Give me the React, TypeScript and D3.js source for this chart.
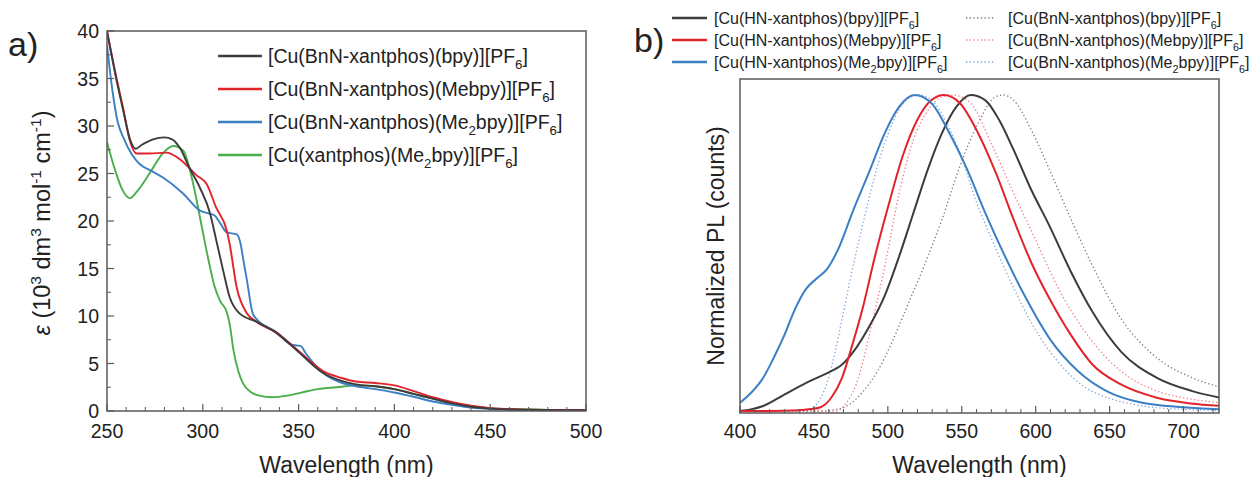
import React from "react";
import * as d3 from "d3";

// ---------- Panel a data (absorption, 10^3 dm3 mol-1 cm-1) ----------
const aBpyX = [250, 255, 258.5, 262, 265, 268, 274, 280, 284, 288, 293, 298.5, 303.8, 307, 310.6, 314, 319, 328, 338.5, 349, 362.8, 372, 380, 390, 400, 410, 420, 430, 440, 450, 465, 480, 500];
const aBpyY = [40, 34.8, 31.6, 28.6, 27.6, 28.0, 28.6, 28.8, 28.6, 27.7, 25.6, 23.5, 20.8, 18, 14.8, 12, 10.3, 9.4, 8.2, 6.4, 4.0, 3.2, 2.8, 2.6, 2.3, 1.8, 1.3, 0.8, 0.45, 0.25, 0.15, 0.1, 0.08];

const aMebpyX = [250, 255, 258.5, 262, 265.5, 272, 281, 288, 296.8, 302, 307, 312.5, 314, 317.7, 323, 328, 338.5, 349, 362.8, 372, 380, 390, 400, 410, 420, 430, 440, 450, 465, 480, 500];
const aMebpyY = [40, 35, 31.8, 28.4, 27.1, 27.1, 27.2, 26.5, 24.8, 23.9, 21.4, 19, 17.6, 13, 10.3, 9.4, 8.25, 6.5, 4.2, 3.5, 3.1, 2.95, 2.7, 2.1, 1.45, 0.95, 0.55, 0.3, 0.17, 0.12, 0.1];

const aMe2bpyX = [250, 253, 255.5, 258.5, 263, 267, 273, 279, 289.7, 298.5, 303, 306, 309, 312.5, 317.7, 319.5, 321.5, 323, 326, 328, 338.5, 346, 349, 351, 354, 362.8, 372, 380, 390, 400, 410, 420, 430, 440, 450, 465, 480, 500];
const aMe2bpyY = [38.5, 33.5, 30.5, 28.8, 27, 26, 25.3, 24.6, 22.9, 21.1, 20.8, 20.6, 19.8, 18.8, 18.6, 17.8, 15.5, 13.8, 10.3, 9.7, 8.3, 7.0, 6.9, 6.85, 6.0, 4.0, 3.0, 2.6, 2.3, 1.95, 1.5, 1.0, 0.65, 0.35, 0.2, 0.12, 0.1, 0.08];

const aXantX = [250, 254, 258, 262, 266, 272.5, 279, 284.5, 289.8, 295, 298.5, 303.8, 306, 309, 312.5, 314, 316, 318.5, 321, 325, 328, 336, 345, 355, 360, 370, 380, 390, 400, 410, 420, 430, 440, 450, 465, 480, 500];
const aXantY = [28.3, 25.5, 23.3, 22.4, 23.2, 25.1, 27.1, 27.9, 27.4, 23.9, 20.4, 15.1, 13.2, 11.6, 10.4, 9.2, 6.4, 4.2, 2.9, 2.0, 1.7, 1.45, 1.65, 2.1, 2.3, 2.5, 2.7, 2.6, 2.3, 1.8, 1.3, 0.85, 0.5, 0.3, 0.18, 0.12, 0.1];

const aLabels = ["[Cu(BnN-xantphos)(bpy)][PF6]", "[Cu(BnN-xantphos)(Mebpy)][PF6]", "[Cu(BnN-xantphos)(Me2bpy)][PF6]", "[Cu(xantphos)(Me2bpy)][PF6]"];
const aXTicks = [250, 300, 350, 400, 450, 500];
const aYTicks = [0, 5, 10, 15, 20, 25, 30, 35, 40];

// ---------- Panel b data (normalized PL) ----------
const bHNbpyX = [400, 408, 415.7, 430, 444.8, 452, 459, 469, 478.6, 488, 498, 507.7, 517.4, 527, 536.7, 546.4, 556, 565.8, 575.4, 585, 597, 609.3, 623.9, 638.4, 657.7, 682, 706, 725];
const bHNbpyY = [0, 0.006, 0.016, 0.052, 0.089, 0.105, 0.12, 0.147, 0.2, 0.272, 0.366, 0.49, 0.628, 0.764, 0.88, 0.963, 1.0, 0.984, 0.92, 0.827, 0.7, 0.586, 0.44, 0.314, 0.188, 0.105, 0.063, 0.042];

const bHNMebpyX = [400, 420, 440, 448, 454.5, 461.7, 469, 476, 483.5, 490.8, 500.4, 510, 519.8, 529.5, 538, 548.8, 561, 573, 585, 597, 609.3, 623.9, 638.4, 657.7, 682, 705, 725];
const bHNMebpyY = [0, 0, 0.002, 0.006, 0.012, 0.042, 0.105, 0.21, 0.335, 0.48, 0.65, 0.806, 0.92, 0.984, 1.0, 0.974, 0.88, 0.754, 0.607, 0.47, 0.356, 0.24, 0.147, 0.084, 0.042, 0.024, 0.016];

const bHNMe2bpyX = [400, 408, 415.7, 423, 430, 437, 444.8, 452, 459, 466.5, 476, 488, 498, 507.7, 518, 529.5, 541.6, 553.7, 565.8, 577.9, 592.4, 609.3, 628.7, 648, 672, 700, 725];
const bHNMe2bpyY = [0.026, 0.06, 0.105, 0.17, 0.24, 0.32, 0.387, 0.42, 0.45, 0.513, 0.628, 0.764, 0.88, 0.963, 1.0, 0.974, 0.88, 0.764, 0.628, 0.503, 0.366, 0.23, 0.126, 0.063, 0.026, 0.012, 0.005];

const bBnNbpyX = [400, 455, 464, 473.8, 483.5, 493, 503, 512.5, 524.6, 536.7, 548.8, 561, 573, 578, 585, 597, 609.3, 623.9, 638.4, 657.7, 682, 706, 725];
const bBnNbpyY = [0, 0, 0.004, 0.02, 0.063, 0.126, 0.22, 0.325, 0.46, 0.607, 0.775, 0.91, 0.995, 1.0, 0.984, 0.89, 0.764, 0.607, 0.46, 0.293, 0.168, 0.105, 0.075];

const bBnNMebpyX = [400, 465, 469, 474, 478.6, 488, 498, 507.7, 517.4, 527, 536.7, 544, 556, 570.6, 585, 599.6, 614, 633.5, 657.7, 682, 705, 725];
const bBnNMebpyY = [0, 0, 0.01, 0.04, 0.084, 0.25, 0.46, 0.69, 0.86, 0.95, 0.995, 1.0, 0.974, 0.84, 0.69, 0.545, 0.4, 0.25, 0.126, 0.063, 0.038, 0.026];

const bBnNMe2bpyX = [400, 440, 447, 454.5, 459, 464, 469, 473.8, 483.5, 493, 503, 512.5, 521, 529.5, 540, 550, 560, 570.6, 585, 597, 609.3, 620, 633.5, 650, 669.8, 700, 725];
const bBnNMe2bpyY = [0, 0, 0.005, 0.04, 0.09, 0.18, 0.29, 0.4, 0.6, 0.775, 0.91, 0.984, 1.0, 0.984, 0.91, 0.8, 0.66, 0.54, 0.39, 0.28, 0.19, 0.13, 0.075, 0.04, 0.018, 0.005, 0.002];

const bLabelsHN = ["[Cu(HN-xantphos)(bpy)][PF6]", "[Cu(HN-xantphos)(Mebpy)][PF6]", "[Cu(HN-xantphos)(Me2bpy)][PF6]"];
const bLabelsBnN = ["[Cu(BnN-xantphos)(bpy)][PF6]", "[Cu(BnN-xantphos)(Mebpy)][PF6]", "[Cu(BnN-xantphos)(Me2bpy)][PF6]"];
const bXTicks = [400, 450, 500, 550, 600, 650, 700];

const FONT = "'Liberation Sans', Arial, Helvetica, sans-serif";
const C_BLACK = "#3c3c3c";
const C_RED = "#e3232c";
const C_BLUE = "#3b7fc4";
const C_GREEN = "#4aae4a";
const C_FRAME = "#5a5a5a";
const C_TEXT = "#222";

function zip(xs: number[], ys: number[]): [number, number][] {
  return xs.map((x, i) => [x, ys[i]]);
}

// Formula label: the "2" after Me and the "6" after PF are subscripts
function Formula({ text, x, y, size }: { text: string; x: number; y: number; size: number }) {
  const segs: { t: string; sub: boolean }[] = [];
  const re = /(Me2|PF6)/g;
  let last = 0;
  let m: RegExpExecArray | null;
  while ((m = re.exec(text)) !== null) {
    segs.push({ t: text.slice(last, m.index) + m[0].slice(0, -1), sub: false });
    segs.push({ t: m[0].slice(-1), sub: true });
    last = m.index + m[0].length;
  }
  if (last < text.length) segs.push({ t: text.slice(last), sub: false });
  const sh = size * 0.3;
  let prevSub = false;
  const nodes = segs.map((s, i) => {
    let dy = 0;
    if (s.sub && !prevSub) dy = sh;
    if (!s.sub && prevSub) dy = -sh;
    prevSub = s.sub;
    return (
      <tspan key={i} dy={dy} fontSize={s.sub ? size * 0.68 : size}>
        {s.t}
      </tspan>
    );
  });
  return (
    <text x={x} y={y} fontSize={size} fontFamily={FONT} fill={C_TEXT}>
      {nodes}
    </text>
  );
}

function PanelA() {
  const L = 107, R = 586, T = 31, B = 411;
  const x = d3.scaleLinear().domain([250, 500]).range([L, R]);
  const y = d3.scaleLinear().domain([0, 40]).range([B, 31]);
  const line = d3.line<[number, number]>().x((d) => x(d[0])).y((d) => y(d[1])).curve(d3.curveMonotoneX);
  const series = [
    { xs: aBpyX, ys: aBpyY, c: C_BLACK },
    { xs: aMebpyX, ys: aMebpyY, c: C_RED },
    { xs: aMe2bpyX, ys: aMe2bpyY, c: C_BLUE },
    { xs: aXantX, ys: aXantY, c: C_GREEN },
  ];
  const legendColors = [C_BLACK, C_RED, C_BLUE, C_GREEN];
  const minorX = d3.range(250, 501, 10).filter((v) => v % 50 !== 0);
  const minorY = d3.range(2.5, 40, 5);
  return (
    <g>
      <defs>
        <clipPath id="clipA">
          <rect x={L} y={T} width={R - L} height={B - T} />
        </clipPath>
      </defs>
      <g clipPath="url(#clipA)">
        {[...series].reverse().map((s, i) => (
          <path key={i} d={line(zip(s.xs, s.ys)) || ""} fill="none" stroke={s.c} strokeWidth={1.9} />
        ))}
      </g>
      <rect x={L} y={T} width={R - L} height={B - T} fill="none" stroke={C_FRAME} strokeWidth={1.5} />
      {aXTicks.map((t) => (
        <g key={t}>
          <line x1={x(t)} x2={x(t)} y1={B} y2={B - 7} stroke={C_FRAME} strokeWidth={1.2} />
          <text x={x(t)} y={438} textAnchor="middle" fontSize={19.5} fontFamily={FONT} fill={C_TEXT}>{t}</text>
        </g>
      ))}
      {minorX.map((t) => (
        <line key={t} x1={x(t)} x2={x(t)} y1={B} y2={B - 4} stroke={C_FRAME} strokeWidth={1} />
      ))}
      {aYTicks.map((t) => (
        <g key={t}>
          <line x1={L} x2={L + 7} y1={y(t)} y2={y(t)} stroke={C_FRAME} strokeWidth={1.2} />
          <text x={L - 8} y={y(t) + 7} textAnchor="end" fontSize={19.5} fontFamily={FONT} fill={C_TEXT}>{t}</text>
        </g>
      ))}
      {minorY.map((t) => (
        <line key={t} x1={L} x2={L + 4} y1={y(t)} y2={y(t)} stroke={C_FRAME} strokeWidth={1} />
      ))}
      <text x={(L + R) / 2} y={473} textAnchor="middle" fontSize={23} fontFamily={FONT} fill={C_TEXT}>Wavelength (nm)</text>
      <text transform={`translate(50,${223}) rotate(-90)`} textAnchor="middle" fontSize={23.5} fontFamily={FONT} fill={C_TEXT}>
        <tspan fontStyle="italic">ε</tspan>
        <tspan> (10</tspan>
        <tspan dy={-9} fontSize={15.5}>3</tspan>
        <tspan dy={9}> dm</tspan>
        <tspan dy={-9} fontSize={15.5}>3</tspan>
        <tspan dy={9}> mol</tspan>
        <tspan dy={-9} fontSize={15.5}>-1</tspan>
        <tspan dy={9}> cm</tspan>
        <tspan dy={-9} fontSize={15.5}>-1</tspan>
        <tspan dy={9}>)</tspan>
      </text>
      {aLabels.map((lab, i) => (
        <g key={lab}>
          <line x1={218} x2={262} y1={56 + i * 33} y2={56 + i * 33} stroke={legendColors[i]} strokeWidth={2.5} />
          <Formula text={lab} x={268} y={56 + i * 33 + 7} size={19.5} />
        </g>
      ))}
      <text x={8} y={56} fontSize={34} fontFamily={FONT} fill={C_TEXT}>a)</text>
    </g>
  );
}

function PanelB() {
  const L = 740, R = 1219, T = 79, B = 413;
  const x = d3.scaleLinear().domain([400, 724]).range([L, R]);
  const y = d3.scaleLinear().domain([0, 1]).range([411, 95]);
  const line = d3.line<[number, number]>().x((d) => x(d[0])).y((d) => y(d[1])).curve(d3.curveMonotoneX);
  const dotted = [
    { xs: bBnNbpyX, ys: bBnNbpyY, c: "#7a7a7a" },
    { xs: bBnNMebpyX, ys: bBnNMebpyY, c: "#ef7a80" },
    { xs: bBnNMe2bpyX, ys: bBnNMe2bpyY, c: "#78a6da" },
  ];
  const solid = [
    { xs: bHNbpyX, ys: bHNbpyY, c: C_BLACK },
    { xs: bHNMebpyX, ys: bHNMebpyY, c: C_RED },
    { xs: bHNMe2bpyX, ys: bHNMe2bpyY, c: C_BLUE },
  ];
  const minorX = d3.range(410, 725, 10).filter((v) => v % 50 !== 0);
  return (
    <g>
      <defs>
        <clipPath id="clipB">
          <rect x={L} y={T} width={R - L} height={B - T} />
        </clipPath>
      </defs>
      <g clipPath="url(#clipB)">
        {dotted.map((s, i) => (
          <path key={"d" + i} d={line(zip(s.xs, s.ys)) || ""} fill="none" stroke={s.c} strokeWidth={1.3} strokeDasharray="1.3 2.4" />
        ))}
        {solid.map((s, i) => (
          <path key={"s" + i} d={line(zip(s.xs, s.ys)) || ""} fill="none" stroke={s.c} strokeWidth={2} />
        ))}
      </g>
      <rect x={L} y={T} width={R - L} height={B - T} fill="none" stroke={C_FRAME} strokeWidth={1.5} />
      {bXTicks.map((t) => (
        <g key={t}>
          <line x1={x(t)} x2={x(t)} y1={B} y2={B - 7} stroke={C_FRAME} strokeWidth={1.2} />
          <text x={x(t)} y={438} textAnchor="middle" fontSize={19.5} fontFamily={FONT} fill={C_TEXT}>{t}</text>
        </g>
      ))}
      {minorX.map((t) => (
        <line key={t} x1={x(t)} x2={x(t)} y1={B} y2={B - 4} stroke={C_FRAME} strokeWidth={1} />
      ))}
      <text x={(L + R) / 2} y={473} textAnchor="middle" fontSize={23} fontFamily={FONT} fill={C_TEXT}>Wavelength (nm)</text>
      <text transform={`translate(724,${(T + B) / 2 + 0}) rotate(-90)`} textAnchor="middle" fontSize={23} fontFamily={FONT} fill={C_TEXT}>Normalized PL (counts)</text>
      {bLabelsHN.map((lab, i) => (
        <g key={lab}>
          <line x1={672} x2={707} y1={18 + i * 22} y2={18 + i * 22} stroke={solid[i].c} strokeWidth={2.5} />
          <Formula text={lab} x={714} y={18 + i * 22 + 6} size={16} />
        </g>
      ))}
      {bLabelsBnN.map((lab, i) => (
        <g key={lab}>
          <line x1={966} x2={994} y1={18 + i * 22} y2={18 + i * 22} stroke={dotted[i].c} strokeWidth={1.3} strokeDasharray="1.3 2.4" />
          <Formula text={lab} x={1008} y={18 + i * 22 + 6} size={16} />
        </g>
      ))}
      <text x={634} y={52} fontSize={34} fontFamily={FONT} fill={C_TEXT}>b)</text>
    </g>
  );
}

export default function App() {
  return (
    <svg width={1258} height={477} style={{ position: "absolute", left: 0, top: 0, background: "#fff" }}>
      <rect x={0} y={0} width={1258} height={477} fill="#fff" />
      <PanelA />
      <PanelB />
    </svg>
  );
}
